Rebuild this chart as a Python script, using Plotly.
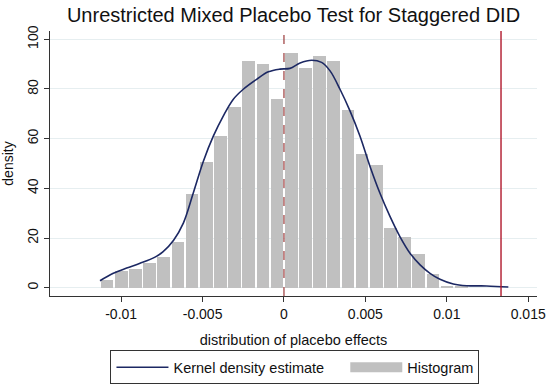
import plotly.graph_objects as go

# Histogram data (density per bin)
bin_start = -0.0113
bin_width = 0.00087
hist_density = [3.1, 6.6, 7.7, 10.1, 12.4, 18.2, 37.9, 50.5, 60.9, 72.6, 91.1, 90.0, 76.1,
                94.6, 88.6, 93.3, 91.1, 71.4, 54.0, 49.4, 24.0, 20.3, 13.5, 5.4, 0.7, 0.7]

# Kernel density estimate
kde_x = [-0.0113, -0.01048, -0.00966, -0.00884, -0.00792, -0.00742, -0.00679, -0.00618,
         -0.00557, -0.00495, -0.00434, -0.00373, -0.00312, -0.0025, -0.00168, -0.00096,
         -0.00025, 0.00037, 0.00099, 0.0017, 0.00231, 0.00283, 0.00344, 0.00406, 0.00467,
         0.00528, 0.00589, 0.00651, 0.00712, 0.00774, 0.00836, 0.00897, 0.00958, 0.0104,
         0.01122, 0.01245, 0.01378]
kde_y = [2.8, 5.8, 7.9, 9.8, 12.3, 14.5, 19.0, 26.0, 38.1, 50.9, 61.0, 69.1, 75.8, 79.9,
         83.9, 86.9, 88.0, 88.3, 90.5, 91.6, 90.7, 87.3, 79.9, 71.1, 61.0, 48.9, 38.1, 28.7,
         20.6, 13.9, 9.2, 5.8, 3.4, 1.5, 0.8, 0.7, 0.3]

# Reference lines
placebo_zero = 0.0
actual_effect = 0.01333

# Axis ticks
x_ticks = [-0.01, -0.005, 0, 0.005, 0.01, 0.015]
x_tick_labels = ["-0.01", "-0.005", "0", "0.005", "0.01", "0.015"]
y_ticks = [0, 20, 40, 60, 80, 100]
y_tick_labels = ["0", "20", "40", "60", "80", "100"]

bin_centers = [bin_start + (i + 0.5) * bin_width for i in range(len(hist_density))]

FONT = "Arial, Liberation Sans, sans-serif"
BAR_COLOR = "#c0c0c0"

fig = go.Figure()
fig.add_trace(go.Bar(
    x=bin_centers, y=hist_density, width=bin_width * 0.9,
    marker=dict(color=BAR_COLOR, line=dict(width=0)),
    name="Histogram", showlegend=False, hoverinfo="skip",
))
fig.add_trace(go.Scatter(
    x=kde_x, y=kde_y, mode="lines",
    line=dict(color="#1c2863", width=1.6, shape="spline"),
    name="Kernel density estimate" + "\u00a0" * 4, legendrank=1,
))
# legend swatch for histogram (wide grey block like Stata)
fig.add_trace(go.Scatter(
    x=[None], y=[None], mode="lines",
    line=dict(color=BAR_COLOR, width=11),
    name="Histogram", legendrank=2,
))

fig.add_shape(type="line", xref="x", yref="paper", x0=placebo_zero, x1=placebo_zero,
              y0=0, y1=1, line=dict(color="#9b3a3a", width=1.2, dash="dash"))
fig.add_shape(type="line", xref="x", yref="paper", x0=actual_effect, x1=actual_effect,
              y0=0, y1=1, line=dict(color="#b0182c", width=1.4))

fig.update_layout(
    width=550, height=386,
    margin=dict(l=50, r=13, t=31, b=90, autoexpand=False),
    paper_bgcolor="white", plot_bgcolor="white",
    font=dict(family=FONT, size=14, color="#111"),
    title=dict(text="Unrestricted Mixed Placebo Test for Staggered DID",
               xref="paper", x=0.5, xanchor="center", y=0.96, yanchor="middle",
               font=dict(size=20, color="#111", family=FONT)),
    showlegend=True,
    legend=dict(orientation="h", x=0.503, xanchor="center", y=-0.205, yanchor="top",
                bordercolor="#333", borderwidth=1,
                font=dict(size=14.5, family=FONT), itemwidth=52),
    bargap=0,
)
fig.update_xaxes(
    range=[-0.01437, 0.01554], tickvals=x_ticks, ticktext=x_tick_labels,
    showgrid=False, zeroline=False, showline=True, linecolor="#333", linewidth=1,
    ticks="outside", ticklen=5, tickcolor="#333", automargin=False,
    title=dict(text="distribution of placebo effects", font=dict(size=14.5), standoff=14),
)
fig.update_yaxes(
    range=[-3.35, 103.35], tickvals=y_ticks, ticktext=y_tick_labels, tickangle=-90,
    showgrid=True, gridcolor="#e6eef0", gridwidth=1, zeroline=False,
    showline=True, linecolor="#333", linewidth=1,
    ticks="outside", ticklen=5, tickcolor="#333", automargin=False,
    title=dict(text="density", font=dict(size=14), standoff=10),
)

fig.write_html("out.html", config={"displayModeBar": False},
               post_script="document.body.style.margin='0';")
